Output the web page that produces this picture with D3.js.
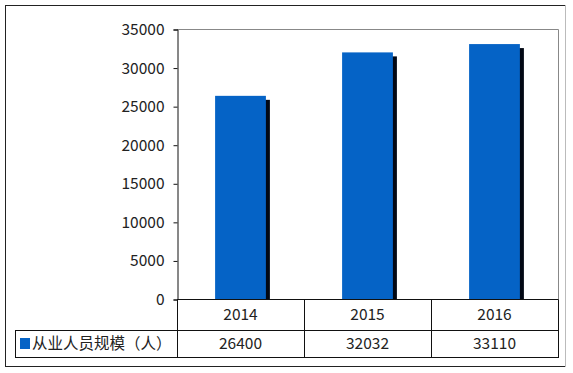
<!DOCTYPE html>
<html>
<head>
<meta charset="utf-8">
<script src="https://cdn.jsdelivr.net/npm/d3@7"></script>
<style>
  body { margin: 0; background: #fff; }
  text { font-family: "Noto Sans CJK SC", "Noto Sans", sans-serif; fill: #222; }
</style>
</head>
<body>
<div id="app"></div>
<script>
const years = ["2014", "2015", "2016"]
const staff = [26400, 32032, 33110]
const yTicks = [0, 5000, 10000, 15000, 20000, 25000, 30000, 35000]
const seriesName = "从业人员规模（人）"

const width = 573
const height = 373
const plotLeft = 177, plotRight = 558, plotTop = 29.5, plotBottom = 299.5
const row1 = 330, row2 = 357, tableLeft = 15
const fontSize = '15.5px'

const svg = d3.select('#app')
  .append('svg')
  .attr('width', width)
  .attr('height', height)

// outer frame
svg.append('rect')
  .attr('x', 5.5).attr('y', 5.5)
  .attr('width', 560).attr('height', 361)
  .attr('fill', 'none')
  .attr('stroke', '#222')
svg.append('line')
  .attr('x1', 565.5).attr('x2', 565.5).attr('y1', 5).attr('y2', 367)
  .attr('stroke', '#bbb')

const x = d3.scaleBand()
  .domain(years)
  .range([plotLeft, plotRight])

const y = d3.scaleLinear()
  .domain([0, 35000])
  .range([plotBottom, plotTop])

// plot frame (top and right in grey)
svg.append('path')
  .attr('d', `M${plotLeft},${plotTop}H${plotRight + 0.5}V${plotBottom}`)
  .attr('fill', 'none')
  .attr('stroke', '#888')

const barW = x.bandwidth() * 0.4

// shadows
svg.append('g')
  .selectAll('rect')
  .data(staff)
  .enter()
  .append('rect')
  .attr('x', (d, i) => x(years[i]) + (x.bandwidth() - barW) / 2 + 4)
  .attr('y', d => y(d) + 4)
  .attr('width', barW)
  .attr('height', d => plotBottom - y(d) - 4)
  .attr('fill', '#020814')

// bars
svg.append('g')
  .selectAll('rect')
  .data(staff)
  .enter()
  .append('rect')
  .attr('x', (d, i) => x(years[i]) + (x.bandwidth() - barW) / 2)
  .attr('y', d => y(d))
  .attr('width', barW)
  .attr('height', d => plotBottom - y(d))
  .attr('fill', '#0563c6')

// y axis
const yAxis = svg.append('g')
  .attr('transform', `translate(${plotLeft + 0.5},0)`)
  .call(d3.axisLeft(y).tickValues(yTicks).tickSize(4).tickPadding(9).tickFormat(d3.format('d')))
yAxis.select('.domain').attr('stroke', '#111')
yAxis.selectAll('line').attr('stroke', '#111')
yAxis.selectAll('text')
  .style('font-size', fontSize)
  .attr('fill', '#222')

// data table
const table = svg.append('g')
  .attr('stroke', '#111')
  .attr('fill', 'none')

table.append('line')
  .attr('x1', plotLeft).attr('x2', plotRight + 0.5)
  .attr('y1', plotBottom).attr('y2', plotBottom)
table.append('line')
  .attr('x1', tableLeft).attr('x2', plotRight + 0.5)
  .attr('y1', row1 + 0.5).attr('y2', row1 + 0.5)
table.append('line')
  .attr('x1', tableLeft).attr('x2', plotRight + 0.5)
  .attr('y1', row2 + 0.5).attr('y2', row2 + 0.5)
table.append('line')
  .attr('x1', tableLeft + 0.5).attr('x2', tableLeft + 0.5)
  .attr('y1', row1).attr('y2', row2 + 1)
table.selectAll('.col')
  .data(years.map(d => x(d)).concat([plotRight]))
  .enter()
  .append('line')
  .attr('x1', d => Math.round(d) + 0.5).attr('x2', d => Math.round(d) + 0.5)
  .attr('y1', plotBottom).attr('y2', row2 + 1)

svg.append('g')
  .selectAll('text')
  .data(years)
  .enter()
  .append('text')
  .attr('x', d => x(d) + x.bandwidth() / 2)
  .attr('y', (plotBottom + row1) / 2 + 5.5)
  .attr('text-anchor', 'middle')
  .style('font-size', fontSize)
  .text(d => d)

svg.append('g')
  .selectAll('text')
  .data(staff)
  .enter()
  .append('text')
  .attr('x', (d, i) => x(years[i]) + x.bandwidth() / 2)
  .attr('y', (row1 + row2) / 2 + 5.5)
  .attr('text-anchor', 'middle')
  .style('font-size', fontSize)
  .text(d => d)

// legend key in table
svg.append('rect')
  .attr('x', 20).attr('y', 338)
  .attr('width', 10).attr('height', 11)
  .attr('fill', '#0563c6')
svg.append('text')
  .attr('x', 32)
  .attr('y', (row1 + row2) / 2 + 5.5)
  .style('font-size', fontSize)
  .text(seriesName)
</script>
</body>
</html>
